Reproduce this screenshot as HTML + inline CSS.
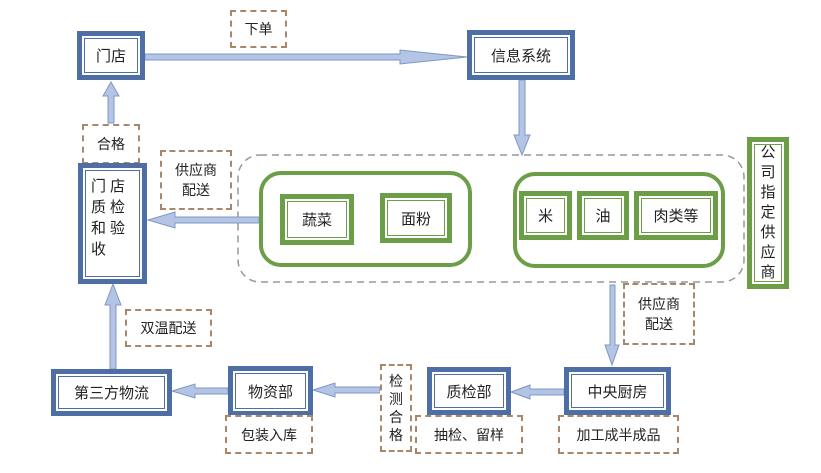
<!DOCTYPE html>
<html><head><meta charset="utf-8"><style>
body{margin:0;background:#fff;}
#c{position:relative;width:821px;height:473px;overflow:hidden;font-family:"Liberation Sans","Noto Sans CJK SC",sans-serif;color:#222;}
.b{position:absolute;box-sizing:border-box;border:5px solid #4e6fa6;box-shadow:inset 0 0 0 2px #fff,inset 0 0 0 3px #4e6fa6;background:#fff;display:flex;align-items:center;justify-content:center;font-size:15px;}
.g{position:absolute;box-sizing:border-box;border:5px solid #6c9e48;box-shadow:inset 0 0 0 2px #fff,inset 0 0 0 3px #6c9e48;background:#fff;display:flex;align-items:center;justify-content:center;font-size:15px;}
.d{position:absolute;box-sizing:border-box;border:2px dashed #a8876a;background:#fff;display:flex;align-items:center;justify-content:center;font-size:14px;text-align:center;line-height:20px;}
.grp{position:absolute;box-sizing:border-box;border:4px solid #6c9e48;border-radius:22px;}
svg{position:absolute;left:0;top:0;}
</style></head><body><div id="c">
<svg width="821" height="473">
<rect x="238" y="155" width="506" height="127" rx="22" fill="none" stroke="#999" stroke-width="1.5" stroke-dasharray="7,5"/>
<g fill="#b3c4e4" stroke="#7f97c4" stroke-width="1">
<polygon points="145,54 400,54 400,50 467,57 400,64 400,60 145,60"/>
<polygon points="519,80 525,80 525,135 530,135 522,155 514,135 519,135"/>
<polygon points="108,123 114,123 114,96 119,96 111,82 103,96 108,96"/>
<polygon points="259,217 259,223 175,223 175,228 148,220 175,212 175,217"/>
<polygon points="610,285 615,285 615,345 619,345 612,365 605,345 610,345"/>
<polygon points="564,389 564,395 530,395 530,399 511,392 530,385 530,389"/>
<polygon points="380,387 380,393 335,393 335,397 313,390 335,383 335,387"/>
<polygon points="228,388 228,394 195,394 195,398 172,391 195,384 195,388"/>
<polygon points="110,369 116,369 116,305 121,305 113,284 105,305 110,305"/>
</g>
</svg>
<div class="b" style="left:77px;top:31px;width:68px;height:49px">门店</div>
<div class="b" style="left:467px;top:30px;width:108px;height:50px">信息系统</div>
<div class="d" style="left:230px;top:10px;width:57px;height:38px">下单</div>
<div class="d" style="left:82px;top:124px;width:58px;height:40px">合格</div>
<div class="b" style="left:78px;top:163px;width:69px;height:121px;align-items:flex-start;padding:8px 0 0 8px;justify-content:flex-start;line-height:21px;letter-spacing:4px">门店<br>质检<br>和验<br>收</div>
<div class="d" style="left:160px;top:150px;width:72px;height:60px">供应商<br>配送</div>
<div class="grp" style="left:259px;top:171px;width:213px;height:96px"></div>
<div class="grp" style="left:513px;top:172px;width:212px;height:96px"></div>
<div class="g" style="left:280px;top:194px;width:74px;height:51px">蔬菜</div>
<div class="g" style="left:380px;top:193px;width:72px;height:50px">面粉</div>
<div class="g" style="left:519px;top:191px;width:53px;height:49px">米</div>
<div class="g" style="left:577px;top:191px;width:52px;height:49px">油</div>
<div class="g" style="left:634px;top:191px;width:84px;height:49px">肉类等</div>
<div class="g" style="left:747px;top:137px;width:42px;height:152px;line-height:20px;text-align:center">公<br>司<br>指<br>定<br>供<br>应<br>商</div>
<div class="d" style="left:623px;top:283px;width:72px;height:62px">供应商<br>配送</div>
<div class="b" style="left:564px;top:367px;width:107px;height:48px">中央厨房</div>
<div class="d" style="left:558px;top:415px;width:121px;height:39px">加工成半成品</div>
<div class="b" style="left:427px;top:367px;width:84px;height:48px">质检部</div>
<div class="d" style="left:415px;top:415px;width:108px;height:39px">抽检、留样</div>
<div class="d" style="left:380px;top:364px;width:32px;height:88px;line-height:18px">检<br>测<br>合<br>格</div>
<div class="b" style="left:228px;top:366px;width:85px;height:50px">物资部</div>
<div class="d" style="left:225px;top:415px;width:88px;height:39px">包装入库</div>
<div class="b" style="left:51px;top:369px;width:121px;height:47px">第三方物流</div>
<div class="d" style="left:125px;top:309px;width:87px;height:38px">双温配送</div>
</div></body></html>
